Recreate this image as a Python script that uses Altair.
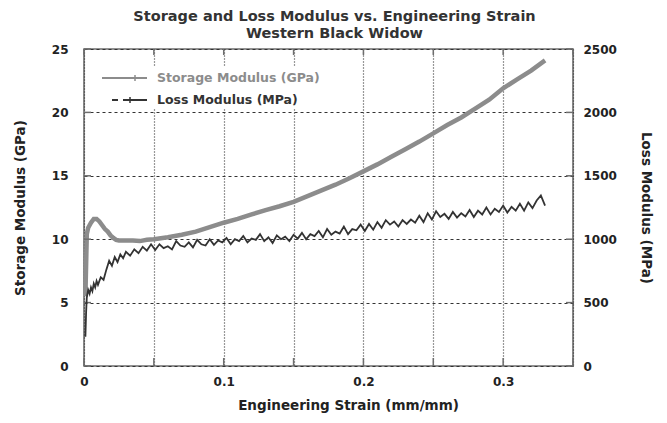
import altair as alt
import pandas as pd

FONT = "DejaVu Sans"

title_lines = ["Storage and Loss Modulus vs. Engineering Strain", "Western Black Widow"]
legend_names = ["Storage Modulus (GPa)", "Loss Modulus (MPa)"]

x_ticks = [0, 0.05, 0.1, 0.15, 0.2, 0.25, 0.3, 0.35]
y_left_ticks = [0, 5, 10, 15, 20, 25]
y_right_ticks = [0, 500, 1000, 1500, 2000, 2500]

storage_strain = [0.001, 0.002, 0.003, 0.005, 0.007, 0.009, 0.011, 0.013, 0.015, 0.017,
                  0.019, 0.021, 0.023, 0.025, 0.030, 0.035, 0.040, 0.045, 0.050, 0.060,
                  0.070, 0.080, 0.090, 0.100, 0.110, 0.120, 0.130, 0.140, 0.150, 0.160,
                  0.170, 0.180, 0.190, 0.200, 0.210, 0.220, 0.230, 0.240, 0.250, 0.260,
                  0.270, 0.280, 0.290, 0.300, 0.310, 0.320, 0.330]
storage_gpa = [5.5, 10.4, 10.9, 11.3, 11.6, 11.6, 11.4, 11.1, 10.8, 10.6,
               10.3, 10.1, 9.95, 9.9, 9.9, 9.9, 9.85, 9.95, 10.0, 10.15,
               10.35, 10.6, 10.95, 11.3, 11.6, 11.95, 12.3, 12.6, 12.95, 13.4,
               13.85, 14.3, 14.8, 15.35, 15.9, 16.5, 17.1, 17.7, 18.35, 19.0,
               19.6, 20.3, 21.0, 21.9, 22.6, 23.3, 24.1]

loss_strain = [0.001, 0.0015, 0.002, 0.003, 0.004, 0.005, 0.006, 0.007, 0.008, 0.009,
               0.010, 0.012, 0.014, 0.016, 0.018, 0.020, 0.022, 0.024, 0.026, 0.028,
               0.030, 0.033, 0.036, 0.039, 0.042, 0.045, 0.048,
               0.051, 0.054, 0.057, 0.060, 0.063, 0.066, 0.069, 0.072, 0.075, 0.078,
               0.081, 0.084, 0.087, 0.090, 0.093, 0.096, 0.099, 0.102, 0.105, 0.108,
               0.111, 0.114, 0.117, 0.120, 0.123, 0.126, 0.129, 0.132, 0.135, 0.138,
               0.141, 0.144, 0.147, 0.150, 0.153, 0.156, 0.159, 0.162, 0.165, 0.168,
               0.171, 0.174, 0.177, 0.180, 0.183, 0.186, 0.189, 0.192, 0.195, 0.198,
               0.201, 0.204, 0.207, 0.210, 0.213, 0.216, 0.219, 0.222, 0.225, 0.228,
               0.231, 0.234, 0.237, 0.240, 0.243, 0.246, 0.249, 0.252, 0.255, 0.258,
               0.261, 0.264, 0.267, 0.270, 0.273, 0.276, 0.279, 0.282, 0.285, 0.288,
               0.291, 0.294, 0.297, 0.300, 0.303, 0.306, 0.309, 0.312, 0.315, 0.318,
               0.321, 0.324, 0.327, 0.330]
loss_mpa = [230, 420, 540, 600, 570, 620, 590, 650, 620, 670,
            640, 700, 680, 760, 830, 790, 860, 820, 880, 850,
            900, 870, 920, 890, 940, 910, 960,
            915, 960, 930, 945, 920, 985, 950, 940, 975, 935,
            995, 960, 950, 1000, 955, 990, 975, 1010, 960, 1000,
            985, 1025, 975, 1005, 995, 1040, 985, 1015, 970, 1030,
            1000, 1020, 985, 1035, 1005, 1050, 1000, 1040, 1025, 1065,
            1015, 1080, 1035, 1060, 1045, 1100, 1040, 1080, 1070, 1115,
            1065, 1120, 1075, 1135, 1090, 1150, 1115, 1140, 1100, 1150,
            1120, 1155, 1130, 1185, 1135, 1205, 1155, 1220, 1175, 1200,
            1160, 1215, 1170, 1205, 1180, 1230, 1175, 1225, 1195, 1250,
            1195, 1240, 1215, 1265, 1210, 1255, 1225, 1280, 1225, 1290,
            1245, 1305, 1345, 1265]

storage_df = pd.DataFrame({"strain": storage_strain, "storage": storage_gpa})
loss_df = pd.DataFrame({"strain": loss_strain, "loss": loss_mpa})
xt_df = pd.DataFrame({"v": x_ticks})
yt_df = pd.DataFrame({"v": y_left_ticks})

xscale = alt.Scale(domain=[0, 0.35], nice=False, zero=False)
yscale = alt.Scale(domain=[0, 25], nice=False)
y2scale = alt.Scale(domain=[0, 2500], nice=False)

STORAGE_COLOR = "#8c8c8c"
LOSS_COLOR = "#333333"
FRAME = "#6e6e6e"
W, H = 489, 317

x_axis = alt.Axis(values=x_ticks, format="~g",
                  labelExpr="round(datum.value*20) % 2 == 0 ? datum.label : ''",
                  title="Engineering Strain (mm/mm)", grid=True, gridDash=[1, 2],
                  gridColor="#333333", gridWidth=1.2, ticks=False, tickSize=0,
                  domain=False, labelPadding=10, titlePadding=11, titleX=264,
                  labelFlush=False, labelOverlap=False)
y_axis = alt.Axis(values=y_left_ticks, title="Storage Modulus (GPa)", orient="left",
                  grid=True, gridDash=[3, 3], gridColor="#333333", gridWidth=1.2,
                  ticks=False, tickSize=0, domain=False, labelPadding=16,
                  titlePadding=24, labelFlush=False)
y2_axis = alt.Axis(values=y_right_ticks, title="Loss Modulus (MPa)", orient="right",
                   format="d", grid=False, ticks=False, tickSize=0, domain=False,
                   labelPadding=10, titlePadding=22, labelFlush=False)

X_ENC = dict(scale=xscale, axis=x_axis, title="Engineering Strain (mm/mm)")
Y_ENC = dict(scale=yscale, axis=y_axis, title="Storage Modulus (GPa)")

storage_line = alt.Chart(storage_df).mark_line(color=STORAGE_COLOR, strokeWidth=4.5).encode(
    x=alt.X("strain:Q", **X_ENC),
    y=alt.Y("storage:Q", **Y_ENC),
)

bottom_ticks = alt.Chart(xt_df).mark_rule(color=FRAME, strokeWidth=1.5).encode(
    x=alt.X("v:Q", **X_ENC), y=alt.value(H - 8), y2=alt.value(H))
top_ticks = alt.Chart(xt_df).mark_rule(color=FRAME, strokeWidth=1.5).encode(
    x=alt.X("v:Q", **X_ENC), y=alt.value(0), y2=alt.value(6))
left_ticks = alt.Chart(yt_df).mark_rule(color=FRAME, strokeWidth=1.5).encode(
    y=alt.Y("v:Q", **Y_ENC), x=alt.value(0), x2=alt.value(7))
right_ticks = alt.Chart(yt_df).mark_rule(color=FRAME, strokeWidth=1.5).encode(
    y=alt.Y("v:Q", **Y_ENC), x=alt.value(W - 7), x2=alt.value(W))

one = pd.DataFrame({"k": [0]})
legend_bg = alt.Chart(one).mark_rect(color="white").encode(
    x=alt.value(2), x2=alt.value(242), y=alt.value(17), y2=alt.value(59))
leg1_line = alt.Chart(one).mark_rule(color=STORAGE_COLOR, strokeWidth=2).encode(
    x=alt.value(18), x2=alt.value(63), y=alt.value(29))
leg1_tick = alt.Chart(one).mark_rule(color=STORAGE_COLOR, strokeWidth=1.5).encode(
    x=alt.value(51), y=alt.value(26), y2=alt.value(32))
leg2_dash = alt.Chart(one).mark_rule(color=LOSS_COLOR, strokeWidth=2).encode(
    x=alt.value(28), x2=alt.value(34), y=alt.value(51))
leg2_line = alt.Chart(one).mark_rule(color=LOSS_COLOR, strokeWidth=2).encode(
    x=alt.value(39), x2=alt.value(63), y=alt.value(51))
leg2_tick = alt.Chart(one).mark_rule(color=LOSS_COLOR, strokeWidth=1.5).encode(
    x=alt.value(46), y=alt.value(48), y2=alt.value(54))
leg1_text = alt.Chart(pd.DataFrame({"label": [legend_names[0]]})).mark_text(
    align="left", baseline="middle", font=FONT, fontWeight="bold", fontSize=12.5,
    color=STORAGE_COLOR).encode(text="label:N", x=alt.value(73), y=alt.value(29))
leg2_text = alt.Chart(pd.DataFrame({"label": [legend_names[1]]})).mark_text(
    align="left", baseline="middle", font=FONT, fontWeight="bold", fontSize=12.5,
    color=LOSS_COLOR).encode(text="label:N", x=alt.value(73), y=alt.value(51))

left = alt.layer(storage_line, bottom_ticks, top_ticks, left_ticks, right_ticks,
                 legend_bg, leg1_line, leg1_tick, leg2_dash, leg2_line, leg2_tick,
                 leg1_text, leg2_text)

loss_line = alt.Chart(loss_df).mark_line(color=LOSS_COLOR, strokeWidth=1.8).encode(
    x=alt.X("strain:Q", **X_ENC),
    y=alt.Y("loss:Q", scale=y2scale, axis=y2_axis, title="Loss Modulus (MPa)"),
)

chart = alt.layer(left, loss_line).resolve_scale(y="independent").properties(
    width=W, height=H,
    autosize=alt.AutoSizeParams(type="none"),
    padding={"left": 76, "top": 41, "right": 86, "bottom": 49},
    title=alt.TitleParams(text=title_lines, font=FONT, fontSize=14.5, fontWeight="bold",
                          color="#333333", anchor="middle", offset=2, lineHeight=17,
                          dx=6),
).configure_view(stroke=FRAME, strokeWidth=1.6).configure_axis(
    labelFont=FONT, labelFontWeight="bold", labelFontSize=12, labelColor="#222222",
    titleFont=FONT, titleFontWeight="bold", titleFontSize=13.5, titleColor="#222222",
)

chart.save("out.html", embed_options={"renderer": "svg", "actions": False})
